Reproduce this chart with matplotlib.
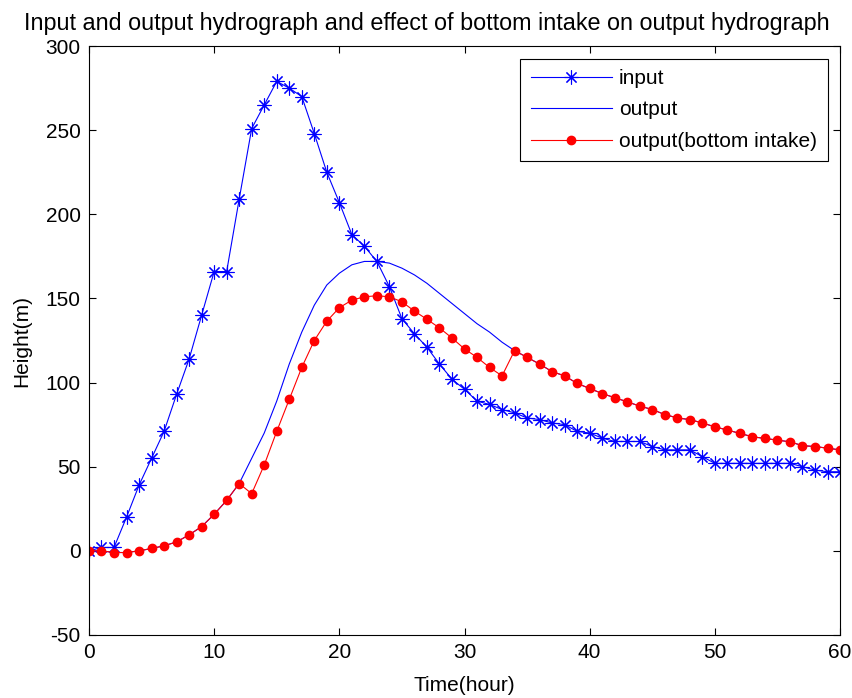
import numpy as np
import matplotlib.pyplot as plt

plt.rcParams['font.family'] = ['Liberation Sans', 'DejaVu Sans']
plt.rcParams['axes.unicode_minus'] = False

# tiempo en horas
t = np.arange(0, 61)

inp = [0, 2, 2, 20, 39, 55, 71, 93, 114, 140,
       166, 166, 209, 251, 265, 279, 275, 270, 248, 225,
       207, 188, 181, 172, 157, 138, 129, 121, 111, 102,
       96, 89, 87, 84, 82, 79, 78, 76, 75, 71,
       70, 67, 65, 65, 65, 62, 60, 60, 60, 56,
       52, 52, 52, 52, 52, 52, 52, 50, 48, 47,
       47]

out = [0, 0, -1, -1, 0, 1.4, 3, 5.3, 9.5, 14.4,
       21.7, 30, 40, 55, 70, 89, 111, 130, 146, 158,
       165, 170, 172, 172, 171, 168, 164, 159, 153, 147,
       141, 135, 130, 124, 119, 115, 111, 106.5, 104, 99.5,
       96.5, 93.5, 91, 88.6, 86, 84, 81, 79, 78, 76,
       73.7, 71.8, 69.8, 67.8, 66.8, 65.8, 64.8, 62.5, 62, 61,
       60]

out_bottom = [0, 0, -1, -1, 0, 1.4, 3, 5.3, 9.5, 14.4,
              21.7, 30, 40, 34, 51, 71, 90, 109, 125, 136.5,
              144.5, 149, 151, 151.6, 151, 148, 142.5, 137.6, 132.5, 126.5,
              120, 115, 109, 104, 119, 115, 111, 106.5, 104, 99.5,
              96.5, 93.5, 91, 88.6, 86, 84, 81, 79, 78, 76,
              73.7, 71.8, 69.8, 67.8, 66.8, 65.8, 64.8, 62.5, 62, 61,
              60]

fig = plt.figure(figsize=(8.53, 6.98), dpi=100)
ax = fig.add_axes([0.1043, 0.0903, 0.8805, 0.8437])

ax.plot(t, inp, color='#0000ff', lw=0.8, marker=(8, 2, 0), ms=10, mew=0.8, label='input')
ax.plot(t, out, color='#0000ff', lw=0.8, label='output')
ax.plot(t, out_bottom, color='#ff0000', lw=0.8, marker='o', ms=6, label='output(bottom intake)')

ax.set_xlim(0, 60)
ax.set_ylim(-50, 300)
ax.set_xticks(np.arange(0, 61, 10))
ax.set_yticks(np.arange(-50, 301, 50))
ax.tick_params(direction='in', length=5, width=0.8, labelsize=15, top=True, right=True, pad=6)
for s in ax.spines.values():
    s.set_linewidth(0.8)

ax.set_xlabel('Time(hour)', fontsize=15, labelpad=10)
ax.set_ylabel('Height(m)', fontsize=15, labelpad=10)
# titulo centrado en la figura
fig.text(0.5, 0.966, 'Input and output hydrograph and effect of bottom intake on output hydrograph',
         fontsize=16.8, ha='center', va='center')

leg = ax.legend(loc='upper right', fontsize=15, fancybox=False, edgecolor='black',
                framealpha=1, handlelength=3.9, handletextpad=0.35, borderpad=0.5,
                borderaxespad=0.6, labelspacing=0.6)
leg.get_frame().set_linewidth(0.8)

plt.savefig('out.png', dpi=100)
